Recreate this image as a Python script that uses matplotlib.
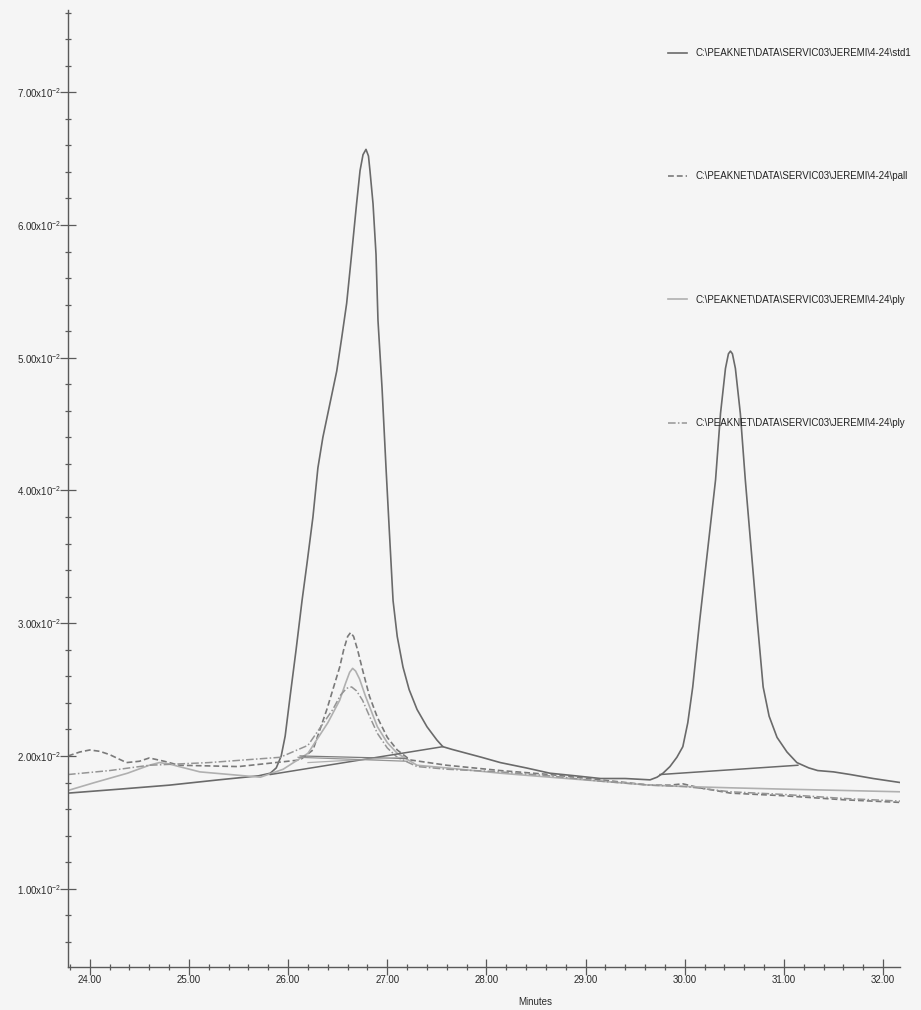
import matplotlib
matplotlib.use("Agg")
import matplotlib.pyplot as plt
from matplotlib.ticker import FixedLocator, MultipleLocator

plt.rcParams['font.family'] = ['Liberation Sans', 'DejaVu Sans']
plt.rcParams['mathtext.fontset'] = 'custom'
plt.rcParams['mathtext.rm'] = 'Liberation Sans'
plt.rcParams['mathtext.it'] = 'Liberation Sans'

# Retention time (minutes) and detector response (units of 1e-2)
std1_t = [23.78, 24.30, 24.80, 25.30, 25.70, 25.82, 25.88, 25.93, 25.97, 26.02,
          26.08, 26.14, 26.19, 26.25, 26.30, 26.35, 26.42, 26.49, 26.54, 26.59,
          26.64, 26.69, 26.725, 26.755, 26.785, 26.81, 26.825, 26.856, 26.886, 26.906,
          26.947, 26.987, 27.02, 27.058, 27.10, 27.158, 27.22, 27.30, 27.40, 27.50,
          27.56, 27.65, 27.80, 27.95, 28.14, 28.40, 28.64, 28.90, 29.15, 29.40,
          29.65, 29.72, 29.78, 29.85, 29.92, 29.98, 30.03, 30.08, 30.15, 30.23,
          30.31, 30.36, 30.41, 30.44, 30.46, 30.48, 30.51, 30.56, 30.61, 30.67,
          30.73, 30.79, 30.85, 30.93, 31.03, 31.13, 31.25, 31.34, 31.50, 31.67,
          31.90, 32.17]
std1_y = [1.72, 1.75, 1.78, 1.82, 1.85, 1.87, 1.91, 2.00, 2.15, 2.45,
          2.80, 3.17, 3.45, 3.80, 4.17, 4.40, 4.65, 4.90, 5.15, 5.41,
          5.78, 6.16, 6.41, 6.53, 6.57, 6.52, 6.41, 6.16, 5.78, 5.28,
          4.77, 4.17, 3.70, 3.17, 2.90, 2.67, 2.50, 2.35, 2.22, 2.12,
          2.07, 2.05, 2.02, 1.99, 1.95, 1.91, 1.87, 1.85, 1.83, 1.83,
          1.82, 1.84, 1.87, 1.92, 1.99, 2.07, 2.25, 2.52, 3.02, 3.55,
          4.08, 4.58, 4.92, 5.03, 5.05, 5.03, 4.92, 4.58, 4.08, 3.55,
          3.02, 2.52, 2.30, 2.14, 2.03, 1.95, 1.91, 1.89, 1.88, 1.86,
          1.83, 1.80]

pall_t = [23.78, 23.90, 24.00, 24.10, 24.20, 24.37, 24.50, 24.60, 24.75, 24.90,
          25.50, 26.12, 26.25, 26.39, 26.52, 26.56, 26.60, 26.63, 26.66, 26.70,
          26.75, 26.82, 26.90, 27.00, 27.10, 27.23, 27.60, 28.14, 28.64, 29.15,
          29.65, 29.85, 29.98, 30.15, 30.46, 31.00, 31.60, 32.17]
pall_y = [2.00, 2.03, 2.045, 2.035, 2.01, 1.95, 1.96, 1.985, 1.96, 1.93,
          1.92, 1.97, 2.045, 2.35, 2.67, 2.80, 2.90, 2.93, 2.90, 2.80,
          2.65, 2.45, 2.29, 2.14, 2.045, 1.97, 1.93, 1.89, 1.86, 1.82,
          1.78, 1.78, 1.79, 1.76, 1.72, 1.70, 1.67, 1.65]

ply_a_t = [23.78, 24.05, 24.38, 24.60, 24.70, 24.80, 24.90, 25.11, 25.72, 25.95,
           26.20, 26.40, 26.52, 26.58, 26.62, 26.65, 26.68, 26.72, 26.78, 26.90,
           27.00, 27.10, 27.30, 27.60, 28.14, 28.64, 29.15, 29.65, 29.98, 30.46,
           31.00, 31.60, 32.17]
ply_a_y = [1.74, 1.80, 1.87, 1.93, 1.95, 1.94, 1.92, 1.88, 1.84, 1.90,
           2.02, 2.25, 2.42, 2.55, 2.63, 2.66, 2.64, 2.58, 2.45, 2.22,
           2.10, 2.02, 1.93, 1.91, 1.87, 1.84, 1.81, 1.78, 1.77, 1.76,
           1.75, 1.74, 1.73]

ply_b_t = [23.78, 24.20, 24.60, 25.20, 25.92, 26.20, 26.45, 26.53, 26.59, 26.64,
           26.69, 26.75, 26.82, 26.90, 27.00, 27.10, 27.30, 27.60, 28.14, 28.64,
           29.15, 29.65, 30.00, 30.46, 31.00, 31.60, 32.17]
ply_b_y = [1.86, 1.89, 1.93, 1.95, 1.99, 2.08, 2.35, 2.46, 2.51, 2.52,
           2.49, 2.42, 2.30, 2.17, 2.06, 1.99, 1.92, 1.90, 1.88, 1.85,
           1.81, 1.78, 1.77, 1.73, 1.71, 1.68, 1.66]

# Integration baselines drawn under each peak (start, end)
bl_main_t = [25.82, 27.56]
bl_main_y = [1.86, 2.07]
bl_second_t = [29.75, 31.14]
bl_second_y = [1.86, 1.93]
bl_pall_t = [26.12, 27.20]
bl_pall_y = [2.00, 1.98]
bl_ply_a_t = [26.20, 27.16]
bl_ply_a_y = [1.95, 1.99]
bl_ply_b_t = [26.10, 27.20]
bl_ply_b_y = [1.99, 1.96]

labels = [r"C:\PEAKNET\DATA\SERVIC03\JEREMI\4-24\std1",
          r"C:\PEAKNET\DATA\SERVIC03\JEREMI\4-24\pall",
          r"C:\PEAKNET\DATA\SERVIC03\JEREMI\4-24\ply",
          r"C:\PEAKNET\DATA\SERVIC03\JEREMI\4-24\ply"]

x_major = [24, 25, 26, 27, 28, 29, 30, 31, 32]
y_major = [1, 2, 3, 4, 5, 6, 7]

def scaled(v):
    return [a * 1e-2 for a in v]

W, H = 921, 1010
fig = plt.figure(figsize=(W / 100, H / 100), dpi=100)
fig.patch.set_facecolor('#f5f5f5')
ax = fig.add_axes([68 / W, 1 - 967 / H, 832 / W, 957 / H])
ax.set_facecolor('none')

c_std = '#6a6a6a'
c_pall = '#7a7a7a'
c_ply_a = '#b0b0b0'
c_ply_b = '#959595'

ax.plot(std1_t, scaled(std1_y), color=c_std, lw=1.2, label=labels[0])
ax.plot(pall_t, scaled(pall_y), color=c_pall, lw=1.2, dashes=(3.5, 1.8), label=labels[1])
ax.plot(ply_a_t, scaled(ply_a_y), color=c_ply_a, lw=1.2, label=labels[2])
ax.plot(ply_b_t, scaled(ply_b_y), color=c_ply_b, lw=1.1, dashes=(5, 1.5, 1, 1.5), label=labels[3])

ax.plot(bl_main_t, scaled(bl_main_y), color=c_std, lw=1.1)
ax.plot(bl_second_t, scaled(bl_second_y), color=c_std, lw=1.1)
ax.plot(bl_pall_t, scaled(bl_pall_y), color=c_pall, lw=0.9)
ax.plot(bl_ply_a_t, scaled(bl_ply_a_y), color=c_ply_a, lw=0.9)
ax.plot(bl_ply_b_t, scaled(bl_ply_b_y), color=c_ply_b, lw=0.9)

ax.set_xlim(23.78, 32.17)
ax.set_ylim(0.0041, 0.0762)

for s in ('top', 'right'):
    ax.spines[s].set_visible(False)
for s in ('left', 'bottom'):
    ax.spines[s].set_color('#5a5a5a')
    ax.spines[s].set_linewidth(1.0)

ax.xaxis.set_major_locator(FixedLocator(x_major))
ax.xaxis.set_minor_locator(MultipleLocator(0.2))
ax.set_xticklabels([f"{v:.2f}" for v in x_major])
ax.yaxis.set_major_locator(FixedLocator(scaled(y_major)))
ax.yaxis.set_minor_locator(MultipleLocator(0.002))
ax.set_yticklabels([f"{v:.2f}x10$^{{-2}}$" for v in y_major])

ax.tick_params(which='major', direction='inout', length=12, width=0.9,
               color='#5a5a5a', labelsize=7, labelcolor='#2a2a2a')
ax.tick_params(which='minor', direction='inout', length=5, width=0.9, color='#5a5a5a')
ax.tick_params(axis='x', which='major', pad=0)
ax.tick_params(axis='y', which='major', pad=-1)

ax.set_xlabel("Minutes", fontsize=7, color='#2a2a2a')
ax.xaxis.set_label_coords((535 - 68) / 832, -0.031)

leg = ax.legend(loc='upper left', bbox_to_anchor=(668 / W, 1 - 48 / H),
                bbox_transform=fig.transFigure, frameon=False, fontsize=7,
                labelspacing=11.66, handlelength=2.0, handletextpad=0.8,
                borderpad=0, borderaxespad=0)
for t in leg.get_texts():
    t.set_color('#222222')

fig.savefig('out.png', dpi=100, facecolor=fig.get_facecolor())
